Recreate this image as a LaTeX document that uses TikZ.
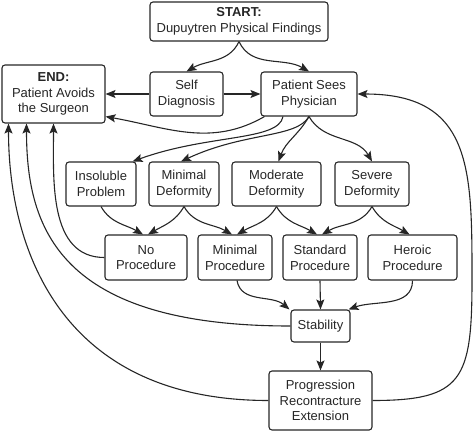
\documentclass[tikz,border=0pt]{standalone}
\usepackage{fontspec}
\setmainfont{Liberation Sans}
\usetikzlibrary{arrows.meta}

\begin{document}
\begin{tikzpicture}[x=1pt,y=1pt,color=black!85,line width=1.1pt,>={Stealth[length=10pt,width=8pt,inset=2pt]},
    every node/.style={shape=rectangle,draw,rounded corners=3pt,align=center,inner sep=0pt,font=\fontsize{13}{15.8}\selectfont},
    box/.style 2 args={minimum width=#1pt,minimum height=#2pt}]
      \useasboundingbox (0,0) rectangle (474,-432);
      \node[box={178}{39}] (start) at (239,-21.5) {\textbf{START:}\\Dupuytren Physical Findings};
      \node[box={103}{58}] (end) at (53.5,-94) {\textbf{END:}\\Patient Avoids\\the Surgeon};
      \node[box={73}{44}] (self) at (186.5,-94) {Self\\Diagnosis};
      \node[box={96}{44}] (psp) at (309,-94) {Patient Sees\\Physician};
      \node[box={70}{44}] (insol) at (101,-184) {Insoluble\\Problem};
      \node[box={70}{44}] (mindef) at (184,-184) {Minimal\\Deformity};
      \node[box={89}{44}] (moddef) at (276.5,-184) {Moderate\\Deformity};
      \node[box={74}{44}] (sevdef) at (372,-184) {Severe\\Deformity};
      \node[box={82}{45}] (noproc) at (146,-257.5) {No\\Procedure};
      \node[box={74}{45}] (minproc) at (235,-257.5) {Minimal\\Procedure};
      \node[box={74}{45}] (stdproc) at (320,-257.5) {Standard\\Procedure};
      \node[box={89}{45}] (heroic) at (412.5,-257.5) {Heroic\\Procedure};
      \node[box={59}{32}] (stab) at (320.5,-326) {Stability};
      \node[box={103}{59}] (prog) at (320.5,-400.5) {Progression\\Recontracture\\Extension};
      \coordinate (rside) at (472,-280);

      \draw[->] (start.south) to[out=-115,in=30] (self.north);
      \draw[->] (start.south) to[out=-65,in=150] (psp.north);
      \draw[->] (self.west) -- (end.east);
      \draw[->] (self.east) -- (psp.west);
      \draw[->] ([xshift=4pt]psp.south west) to[out=-150,in=-10] ([yshift=7pt]end.south east);
      \draw[->] ([xshift=-26pt]psp.south) to[out=-100,in=20,out distance=25pt,in distance=80pt] ([xshift=-4pt]insol.north east);
      \draw[->] (psp.south) to[out=-120,in=25,out distance=25pt,in distance=70pt] ([xshift=-3pt]mindef.north);
      \draw[->] (psp.south) to[out=-120,in=70] ([xshift=2pt]moddef.north);
      \draw[->] (psp.south) to[out=-60,in=120] (sevdef.north);

      \foreach \a/\b in {insol/noproc,mindef/minproc,moddef/stdproc,sevdef/heroic}
        \draw[->] (\a.south) to[out=-60,in=150] ([xshift=-3pt]\b.north);
      \foreach \a/\b in {mindef/noproc,moddef/minproc,sevdef/stdproc}
        \draw[->] (\a.south) to[out=-120,in=30] ([xshift=2pt]\b.north);

      \draw[->] ([xshift=2pt]minproc.south) to[out=-80,in=140] ([xshift=-1pt]stab.north west);
      \draw[->] (stdproc.south) -- (stab.north);
      \draw[->] (heroic.south) to[out=-90,in=20] ([xshift=-2pt]stab.north east);
      \draw[->] (stab.south) -- (prog.north);

      \draw[->] (noproc.west) to[out=180,in=-90] (end.south);
      \draw[->] (stab.west) to[out=180,in=-90,out distance=231pt,in distance=105pt] ([xshift=-27pt]end.south);
      \draw[->] (prog.west) to[out=180,in=-90,out distance=208pt,in distance=125pt] ([xshift=-45pt]end.south);
      \draw[->] (prog.east) to[out=0,in=-90,out distance=90pt,in distance=100pt] (rside)
        to[out=90,in=0,out distance=110pt,in distance=115pt] (psp.east);
\end{tikzpicture}
\end{document}
